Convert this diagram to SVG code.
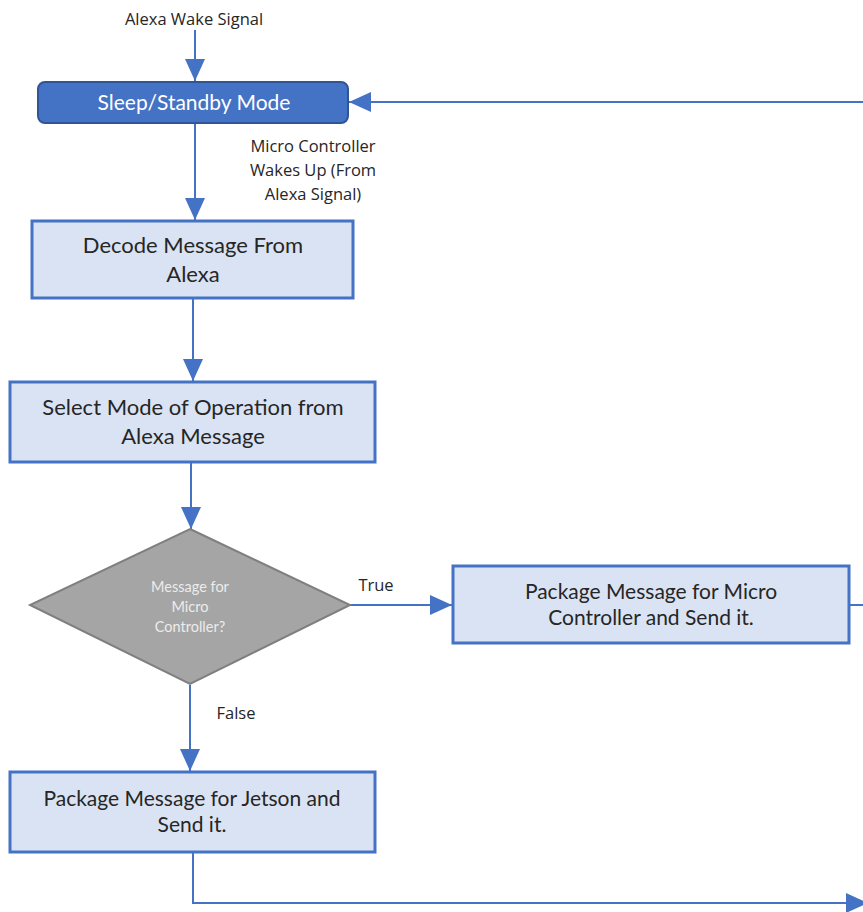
<svg xmlns="http://www.w3.org/2000/svg" width="863" height="912" viewBox="0 0 863 912">
<style>
.box{fill:#dae3f3;stroke:#4472c4;stroke-width:3}
.t{font-family:Lato,"Noto Sans",sans-serif;fill:#262626;text-anchor:middle}
.lbl{font-family:"Open Sans","Noto Sans",sans-serif;fill:#262626;font-size:16.5px;text-anchor:middle}
.c{fill:none;stroke:#4472c4;stroke-width:2}
</style>
<defs>
<marker id="ah" viewBox="0 0 10 10" refX="10" refY="5" markerWidth="22" markerHeight="20" markerUnits="userSpaceOnUse" orient="auto" preserveAspectRatio="none">
<path d="M0,0 L10,5 L0,10 z" fill="#4472c4"/>
</marker>
</defs>
<rect width="863" height="912" fill="#ffffff"/>
<g id="connectors">
<line class="c" x1="195" y1="30" x2="195" y2="81" marker-end="url(#ah)"/>
<line class="c" x1="863" y1="102" x2="349" y2="102" marker-end="url(#ah)"/>
<line class="c" x1="195" y1="124" x2="195" y2="220" marker-end="url(#ah)"/>
<line class="c" x1="193" y1="299" x2="193" y2="381" marker-end="url(#ah)"/>
<line class="c" x1="191" y1="463" x2="191" y2="529" marker-end="url(#ah)"/>
<line class="c" x1="350" y1="605" x2="452" y2="605" marker-end="url(#ah)"/>
<line class="c" x1="190" y1="685" x2="190" y2="771" marker-end="url(#ah)"/>
<line class="c" x1="849" y1="605" x2="863" y2="605"/>
<polyline class="c" points="193,853 193,903 868,903" marker-end="url(#ah)"/>
<text class="lbl" x="194" y="25">Alexa Wake Signal</text>
<text class="lbl" x="313" y="152">Micro Controller</text>
<text class="lbl" x="313" y="176">Wakes Up (From</text>
<text class="lbl" x="313" y="200">Alexa Signal)</text>
<text class="lbl" x="376" y="591">True</text>
<text class="lbl" x="236" y="719">False</text>
</g>
<g id="sleep">
<rect x="38" y="82" width="310" height="41" rx="7" fill="#4472c4" stroke="#2f5597" stroke-width="2"/>
<text class="t" x="194" y="110" font-size="21" style="fill:#ffffff">Sleep/Standby Mode</text>
</g>
<g id="decode">
<rect class="box" x="32" y="221" width="321" height="77"/>
<text class="t" x="193" y="253" font-size="22">Decode Message From</text>
<text class="t" x="193" y="282" font-size="22">Alexa</text>
</g>
<g id="select">
<rect class="box" x="10" y="382" width="365" height="80"/>
<text class="t" x="193" y="415" font-size="22">Select Mode of Operation from</text>
<text class="t" x="193" y="444" font-size="22">Alexa Message</text>
</g>
<g id="decision">
<polygon points="190,529 350,605 190,684 30,605" fill="#a5a5a5" stroke="#7f7f7f" stroke-width="2"/>
<text class="t" x="190" y="592" font-size="14.5" style="fill:#ececec">Message for</text>
<text class="t" x="190" y="612" font-size="14.5" style="fill:#ececec">Micro</text>
<text class="t" x="190" y="632" font-size="14.5" style="fill:#ececec">Controller?</text>
</g>
<g id="pkg-micro">
<rect class="box" x="453" y="566" width="396" height="77"/>
<text class="t" x="651" y="599" font-size="21">Package Message for Micro</text>
<text class="t" x="651" y="625" font-size="21">Controller and Send it.</text>
</g>
<g id="pkg-jetson">
<rect class="box" x="10" y="772" width="365" height="80"/>
<text class="t" x="192" y="806" font-size="21">Package Message for Jetson and</text>
<text class="t" x="192" y="832" font-size="21">Send it.</text>
</g>
</svg>
